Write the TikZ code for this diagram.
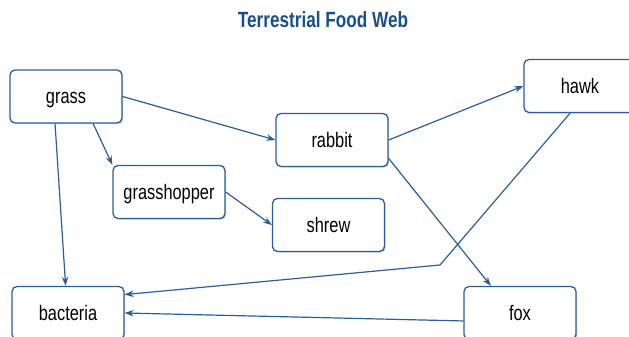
\documentclass[tikz,border=0pt]{standalone}
\usepackage{fontspec}
\setmainfont{Liberation Sans}[FakeStretch=0.78]
\usetikzlibrary{arrows.meta,shadows}
\definecolor{webblue}{RGB}{44,94,150}
\definecolor{titleblue}{RGB}{28,78,138}
\begin{document}
\begin{tikzpicture}[
x=1pt, y=-1pt,
>={Stealth[length=9pt,width=6.5pt]},
animal/.style={
rectangle,
rounded corners=5pt,
draw=webblue,
line width=1.3pt,
fill=white,
align=center,
minimum height=53pt,
minimum width=112pt,
text height=16pt,
text depth=2pt,
font=\fontsize{21}{24}\selectfont,
drop shadow={shadow xshift=1.2pt, shadow yshift=-1.2pt, fill=black!35}
},
arrow/.style={
->,
line width=1.2pt,
draw=webblue
}
]
\useasboundingbox (0,0) rectangle (629,337);
\clip (0,0) rectangle (629,337);

\node[font=\fontsize{22}{26}\selectfont\bfseries, text=titleblue] (title) at (323,20) {Terrestrial Food Web};

\node[animal] (grass) at (66,96.5) {grass};
\node[animal] (rabbit) at (332,140) {rabbit};
\node[animal] (hawk) at (580,86) {hawk};
\node[animal] (grasshopper) at (169,192) {grasshopper};
\node[animal] (shrew) at (328.5,225) {shrew};
\node[animal] (bacteria) at (68,313) {bacteria};
\node[animal] (fox) at (520,313) {fox};

\coordinate (bend) at (440,265);

\draw[arrow] (grass.east) -- (rabbit.west);
\draw[arrow] (grass.-45) -- (grasshopper.north west);
\draw[arrow] (grass.-112) -- (bacteria.95);
\draw[arrow] (grasshopper.east) -- (shrew.west);
\draw[arrow] (rabbit.east) -- (hawk.west);
\draw[arrow] (rabbit.-18) -- (fox.137);
\draw[arrow] (hawk.-110) -- (bend) -- (bacteria.18);
\draw[arrow] (fox.188) -- (bacteria.0);

\end{tikzpicture}
\end{document}
